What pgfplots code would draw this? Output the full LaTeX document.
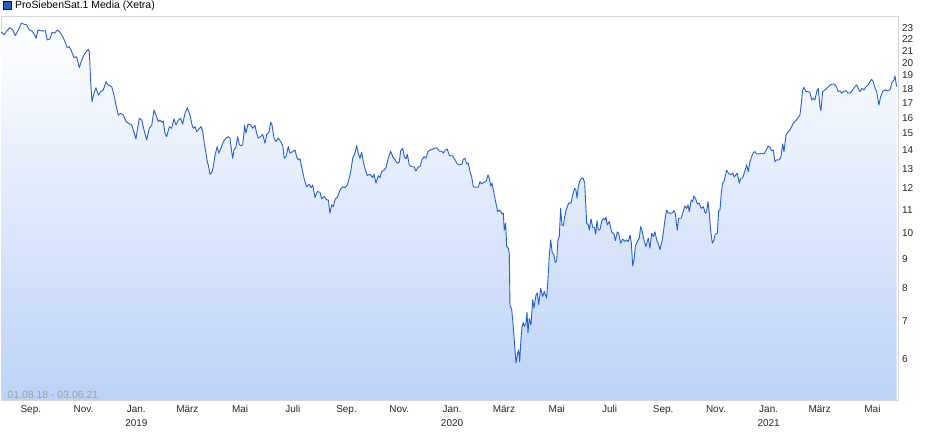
\documentclass[border=0pt]{standalone}
\usepackage{fontspec}
\setmainfont{Liberation Sans}
\usepackage{pgfplots}
\usepackage{pgfplotstable}
\pgfplotsset{compat=1.18}
\definecolor{linec}{RGB}{36,96,202}
\definecolor{areab}{RGB}{188,210,247}
\definecolor{framec}{RGB}{214,214,214}
\pgfplotstableread[row sep=\\]{
d v\\
0 22.5\\ 2 22.42\\ 3.5 22.27\\ 6.6 22.63\\ 10.4 22.94\\ 13.5 22.72\\ 16.5 22.20\\ 20 22.72\\ 23.5 23.35\\ 26.6 23.26\\
29.7 23.19\\ 32.7 22.72\\ 35.8 22.63\\ 39 22.27\\ 40.5 21.96\\ 42.8 22.72\\ 45.1 22.66\\ 48.2 22.63\\ 51.2 22.66\\ 53.5 21.82\\
56.6 21.90\\ 59 22.51\\ 62.1 22.42\\ 65.1 22.72\\ 68.2 22.51\\ 71.3 22.11\\ 74 21.67\\ 76.6 21.14\\ 79 21.23\\ 81.7 20.80\\
84.4 20.30\\ 87.5 20.38\\ 90.5 19.49\\ 93.3 20.11\\ 97.1 20.67\\ 100.9 21.00\\ 102.1 20.80\\ 103.7 18.41\\ 105.2 16.97\\ 107.5 17.56\\
109.8 17.96\\ 112.5 17.44\\ 115.3 17.68\\ 118.3 17.80\\ 121.4 18.41\\ 124 18.17\\ 128 18.04\\ 130.6 17.44\\ 132.9 16.74\\ 135.6 16.07\\
138.4 16.19\\ 141.4 16.07\\ 144.5 15.65\\ 147.2 15.55\\ 151.1 15.44\\ 152.9 15.13\\ 156 14.59\\ 157.6 15.13\\ 159.9 15.86\\ 162.7 15.75\\
165.3 15.13\\ 168.4 14.53\\ 171.4 15.23\\ 174.2 15.40\\ 176.9 16.41\\ 179.2 16.07\\ 181.8 15.65\\ 183.8 15.75\\ 185.8 15.61\\ 187.6 15.69\\
189.6 14.92\\ 191.5 14.72\\ 194.6 15.33\\ 197.3 15.23\\ 200 15.82\\ 202.3 15.44\\ 205 15.75\\ 207.7 15.86\\ 210 15.48\\ 212.7 16.19\\
215.4 16.56\\ 218.5 16.07\\ 220.8 15.44\\ 222.3 15.23\\ 224.3 15.33\\ 226.2 15.02\\ 228.9 15.19\\ 231.2 15.33\\ 233.2 15.02\\ 235 14.33\\
237 13.76\\ 238.5 13.30\\ 239.6 13.12\\ 241.6 12.63\\ 243.9 12.74\\ 245.4 13.02\\ 247.4 13.66\\ 250 14.13\\ 251.7 13.76\\ 254.3 14.04\\
257 14.42\\ 260.1 14.63\\ 262.8 14.72\\ 264.7 14.63\\ 266.7 13.85\\ 267.8 13.48\\ 269.3 13.94\\ 271.7 14.13\\ 273.6 14.72\\ 275.5 14.27\\
277.1 14.19\\ 279.4 14.23\\ 281.7 15.40\\ 283.2 14.92\\ 285.5 15.48\\ 288.7 15.44\\ 291 15.23\\ 293.6 15.40\\ 295.6 14.92\\ 297.4 14.63\\
300.2 14.72\\ 302.5 14.86\\ 305.2 14.33\\ 307.2 14.86\\ 309.8 14.98\\ 311.8 15.61\\ 313.3 15.44\\ 315.6 14.63\\ 317.9 14.43\\ 320.6 14.63\\
323.3 14.43\\ 325.7 14.19\\ 327.5 13.48\\ 329.5 13.57\\ 332.1 14.13\\ 334.1 13.76\\ 337.2 13.85\\ 339.9 13.94\\ 341.8 13.57\\ 343.7 13.39\\
345.6 13.45\\ 347.6 13.02\\ 350.3 12.43\\ 353.4 12.00\\ 356.4 12.13\\ 358.4 11.96\\ 360.3 12.09\\ 363 11.49\\ 365.6 11.77\\ 368.8 11.74\\
370.7 11.43\\ 373.4 11.54\\ 376.5 11.38\\ 378.4 11.38\\ 380.3 10.78\\ 382.3 11.15\\ 384.1 11.07\\ 386.5 11.43\\ 388.8 11.49\\ 391.9 11.85\\
395 12.00\\ 397.7 11.96\\ 400.3 12.09\\ 402.6 12.44\\ 404.3 12.77\\ 406.6 13.48\\ 409.2 13.76\\ 411.2 14.19\\ 413 13.76\\ 415 13.48\\
417 13.81\\ 418.8 13.30\\ 420.8 12.94\\ 423.4 12.56\\ 426.6 12.63\\ 429.7 12.46\\ 431.2 12.63\\ 433.5 12.18\\ 436.2 12.56\\ 438.1 12.46\\
440.1 12.77\\ 442.7 12.85\\ 445.1 12.97\\ 447.7 13.48\\ 450.5 13.88\\ 452.8 13.57\\ 455.5 13.39\\ 458.1 13.21\\ 460.4 13.26\\ 462 13.88\\
464.4 14.04\\ 466.2 13.57\\ 468.2 13.45\\ 469.7 13.70\\ 472 13.12\\ 474.8 13.02\\ 477.4 13.02\\ 479.7 12.80\\ 482.4 13.02\\ 484.4 13.02\\
486.7 13.39\\ 489 13.57\\ 491.3 13.48\\ 493.6 13.85\\ 495.9 13.94\\ 499.1 13.99\\ 501.7 14.04\\ 503.7 14.07\\ 506.7 13.88\\ 509.5 13.88\\
511.3 13.76\\ 513.6 13.94\\ 515.9 13.99\\ 518.3 13.63\\ 522.2 13.61\\ 524.8 13.39\\ 527.5 13.17\\ 530.6 13.12\\ 532.9 13.17\\ 534.4 13.43\\
536.4 13.48\\ 538.4 13.17\\ 540.2 13.21\\ 542.2 12.77\\ 544.1 12.51\\ 546 12.00\\ 549.1 11.98\\ 551.8 11.98\\ 553.7 12.26\\ 555.7 12.14\\
557.5 12.21\\ 560.7 12.26\\ 563 12.60\\ 564.5 12.43\\ 566.1 12.04\\ 567.6 12.18\\ 569.9 11.69\\ 572.2 11.23\\ 574.2 10.85\\ 576 10.92\\
577.7 10.85\\ 579.2 10.75\\ 580.7 10.78\\ 581.8 10.06\\ 583.4 10.35\\ 584.6 9.41\\ 586.5 9.35\\ 587.6 9.16\\ 588.4 7.43\\ 590.4 7.28\\
592.2 6.80\\ 594.2 6.18\\ 595.3 5.86\\ 597.3 6.10\\ 598.4 6.18\\ 599.6 5.89\\ 601.1 6.45\\ 602.3 6.80\\ 603.8 6.91\\ 604.9 6.80\\
606.9 6.89\\ 608.1 7.20\\ 609.2 6.63\\ 610.7 7.02\\ 612.7 6.84\\ 614.7 7.58\\ 616.1 7.33\\ 618.5 7.73\\ 620 7.79\\ 621.6 7.43\\
623.9 7.94\\ 626.2 7.68\\ 628.1 7.84\\ 630.8 7.63\\ 632.3 8.22\\ 633.8 9.03\\ 635.5 9.67\\ 637.3 9.18\\ 639.3 9.09\\ 640.8 8.82\\
642.4 8.89\\ 643.9 9.67\\ 645.4 9.80\\ 647 10.99\\ 648.5 10.28\\ 650.1 10.24\\ 651.7 10.63\\ 653.2 10.89\\ 655.5 11.15\\ 657 11.25\\
659 11.23\\ 660.9 11.62\\ 663.2 11.93\\ 664.7 11.85\\ 665.9 11.46\\ 667.4 12.00\\ 669.3 12.31\\ 671.3 12.43\\ 673.1 12.43\\ 674.8 12.18\\
677.1 10.35\\ 679 10.28\\ 680.1 10.06\\ 682.1 10.53\\ 684 10.18\\ 685.9 10.18\\ 687.5 9.90\\ 689 10.45\\ 690.5 10.06\\ 692.5 10.09\\
694.4 10.42\\ 696.3 10.56\\ 698.2 10.49\\ 699.4 10.61\\ 700.9 10.28\\ 703.2 10.42\\ 706 9.99\\ 708.7 9.90\\ 710.2 9.64\\ 712.5 9.99\\
714.1 9.93\\ 716.4 9.54\\ 718.7 9.70\\ 721 9.61\\ 723.3 9.67\\ 725.2 9.61\\ 727.2 9.86\\ 728.7 9.54\\ 730.3 8.70\\ 731.8 8.91\\
733.3 9.41\\ 735.6 9.61\\ 737.9 9.74\\ 739.5 10.21\\ 741 10.06\\ 743.3 9.67\\ 745.6 9.41\\ 747.1 9.61\\ 748.3 9.74\\ 750.2 9.35\\
752.2 9.93\\ 754.1 9.80\\ 756 9.99\\ 758 9.67\\ 760.3 9.48\\ 761.8 9.29\\ 764.1 9.61\\ 765.6 9.93\\ 767.6 10.49\\ 769.5 10.92\\
771.4 10.78\\ 774.2 10.78\\ 776.5 10.80\\ 778 10.89\\ 779.5 10.78\\ 781.8 10.06\\ 783.4 10.56\\ 786.4 10.56\\ 788.1 10.78\\ 790.7 11.10\\
792.7 10.99\\ 794.2 11.15\\ 795.7 10.85\\ 798 11.38\\ 799.6 11.30\\ 801.1 11.57\\ 803.5 11.38\\ 805 11.19\\ 807.2 11.23\\ 809.5 10.99\\
811.9 11.07\\ 814.2 10.78\\ 815.8 10.85\\ 817.3 11.30\\ 818.8 10.78\\ 820.4 10.06\\ 822.3 9.54\\ 824.2 9.67\\ 825.7 9.90\\ 828.1 9.93\\
829.7 10.89\\ 831.2 10.92\\ 832.7 11.69\\ 834.3 12.18\\ 835.8 12.26\\ 838.9 12.85\\ 840.8 12.69\\ 843.6 12.60\\ 845.9 12.69\\ 847.7 12.49\\
849.7 12.60\\ 851.2 12.69\\ 853.5 12.18\\ 855.4 12.44\\ 857.4 12.44\\ 860.1 12.82\\ 862.1 13.12\\ 863.9 12.77\\ 865.9 13.30\\ 867.8 13.57\\
869.7 13.79\\ 871.6 13.85\\ 873.6 13.72\\ 876.6 13.72\\ 879.4 13.76\\ 882 13.72\\ 885.2 13.98\\ 887 14.17\\ 889 14.09\\ 890.9 13.90\\
892.8 13.94\\ 894.8 13.30\\ 896.7 13.39\\ 899.7 13.39\\ 901.7 13.57\\ 903.7 14.29\\ 905.2 13.85\\ 907.5 14.82\\ 909.4 14.96\\ 912.1 15.13\\
914.1 15.33\\ 915.9 15.55\\ 919 15.71\\ 921.7 15.92\\ 923.6 16.07\\ 924.8 16.63\\ 926.8 17.80\\ 928.3 17.99\\ 930.6 17.68\\ 933.2 17.68\\
935.2 17.61\\ 937.2 17.09\\ 939 17.21\\ 941 17.09\\ 943 17.68\\ 944.8 17.92\\ 946.8 16.63\\ 947.9 16.36\\ 949.9 17.68\\ 952.5 17.80\\
954.5 17.92\\ 957.5 18.09\\ 960.3 18.24\\ 962.9 18.22\\ 965.3 18.09\\ 967.9 17.68\\ 969.9 17.75\\ 971.8 17.56\\ 973.7 17.68\\ 976.8 17.75\\
979.5 17.56\\ 982.3 17.61\\ 984.6 17.80\\ 987.2 18.04\\ 989.2 18.17\\ 991.1 17.92\\ 993 17.68\\ 995.4 17.92\\ 997.7 17.80\\ 1000 18.04\\
1002.6 18.17\\ 1004.6 18.41\\ 1006.5 18.59\\ 1008.4 18.41\\ 1010.4 17.92\\ 1012.3 17.68\\ 1014.9 16.74\\ 1016.9 17.32\\ 1019.2 17.68\\ 1021.9 17.80\\
1024.5 17.75\\ 1027.7 17.80\\ 1030 18.34\\ 1032.3 18.54\\ 1033.5 18.84\\ 1035.4 18.04\\
}\prices
\begin{document}
\begin{tikzpicture}
\useasboundingbox (0bp,0bp) rectangle (940bp,435bp);
\begin{axis}[
  at={(1bp,35bp)}, anchor=south west,
  scale only axis, width=897bp, height=384bp,
  xmin=0, xmax=1037,
  ymode=log, ymin=5.04, ymax=24.05,
  log origin y=infty,
  axis line style={draw=framec, line width=0.8bp},
  major tick length=0pt, minor tick length=0pt,
  yminorticks=false, xminorticks=false,
  xtick={31,92,153,212,273,334,396,457,518,578,639,700,762,823,884,943,1004},
  xticklabels={Sep.,Nov.,{Jan.\\[1bp]2019},März,Mai,Juli,Sep.,Nov.,{Jan.\\[1bp]2020},März,Mai,Juli,Sep.,Nov.,{Jan.\\[1bp]2021},März,Mai},
  xticklabel style={align=center, font=\fontsize{10}{13}\selectfont, text=black!85, inner sep=2bp, xshift=3bp, yshift=-3bp},
  ytick={6,7,8,9,10,11,12,13,14,15,16,17,18,19,20,21,22,23},
  yticklabels={6,7,8,9,10,11,12,13,14,15,16,17,18,19,20,21,22,23},
  yticklabel pos=right,
  yticklabel style={anchor=west, font=\fontsize{10}{12}\selectfont, text=black!85, inner sep=0pt, xshift=4bp, yshift=-1.5bp},
  legend style={at={(0,1)}, anchor=south west, draw=none, fill=none,
    inner sep=0pt, outer sep=0pt, xshift=2bp, yshift=4bp,
    font=\fontsize{10.5}{12}\selectfont, legend cell align=left},
  legend image code/.code={\draw[fill=linec, draw=black!60!blue, line width=0.6bp] (0bp,-4bp) rectangle (8bp,4bp); \path (9.5bp,0bp);},
]
\addplot[draw=none, top color=white, bottom color=areab, forget plot] table[x=d, y=v] {\prices} \closedcycle;
\addplot[color=linec, line width=0.9bp, line join=round] table[x=d, y=v] {\prices};
\addlegendentry{ProSiebenSat.1 Media (Xetra)}
\node[anchor=west, text=black!38, font=\fontsize{10.5}{12}\selectfont, inner sep=0pt] at (rel axis cs:0.007,0.014) {01.08.18 - 03.06.21};
\end{axis}
\end{tikzpicture}
\end{document}
